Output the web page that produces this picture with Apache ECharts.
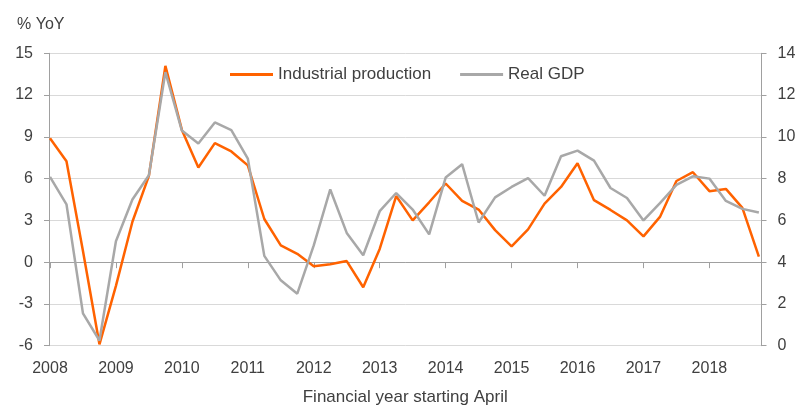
<!DOCTYPE html>
<html>
<head>
<meta charset="utf-8">
<script src="https://cdn.jsdelivr.net/npm/echarts@6/dist/echarts.min.js"></script>
<style>
html,body{margin:0;padding:0;background:#fff;}
#chart{width:800px;height:414px;}
</style>
</head>
<body>
<div id="chart"></div>
<script>
// Quarterly observations, financial year starting April (Q1 = Apr-Jun)
const quarters = [];
for (let y = 2008; y <= 2018; y++) { for (let q = 1; q <= 4; q++) quarters.push(y + 'Q' + q); }

const yearLabels = ['2008','2009','2010','2011','2012','2013','2014','2015','2016','2017','2018'];

const industrialProduction = [
  8.9, 7.25, 0.8, -5.9, -1.7, 2.9, 6.2, 14.1,
  9.5, 6.8, 8.55, 7.95, 6.95, 3.1, 1.2, 0.6,
  -0.3, -0.15, 0.08, -1.8, 0.95, 4.75, 3.0, 4.3,
  5.65, 4.4, 3.78, 2.3, 1.14, 2.35, 4.2, 5.4,
  7.1, 4.45, 3.75, 3.0, 1.85, 3.25, 5.83, 6.46,
  5.1, 5.26, 3.9, 0.4
];

const realGDP = [
  8.08, 6.77, 1.55, 0.25, 5.0, 7.0, 8.16, 13.1,
  10.3, 9.68, 10.69, 10.32, 8.96, 4.3, 3.13, 2.49,
  4.8, 7.48, 5.4, 4.33, 6.44, 7.31, 6.52, 5.33,
  8.05, 8.69, 5.9, 7.1, 7.6, 8.02, 7.18, 9.07,
  9.34, 8.86, 7.55, 7.07, 6.0, 6.83, 7.7, 8.11,
  8.0, 6.93, 6.55, 6.38
];

const yearTickValues = yearLabels.map((_, k) => k * 4);

const textColor = '#404040';
const axisColor = '#A0A0A0';
const gridColor = '#D9D9D9';
const font = '"Liberation Sans", Arial, sans-serif';

const chart = echarts.init(document.getElementById('chart'), null, {renderer: 'canvas'});

chart.setOption({
  animation: false,
  backgroundColor: '#ffffff',
  textStyle: {fontFamily: font, color: textColor},
  grid: {left: 49, right: 38.5, top: 53.3, bottom: 68.3, containLabel: false},
  graphic: [{
    type: 'text', left: 17, top: 17,
    style: {text: '% YoY', fontSize: 16, fontFamily: font, fill: textColor}
  }],
  legend: {
    left: 225, top: 61,
    icon: 'rect', itemWidth: 43, itemHeight: 3, itemGap: 29,
    textStyle: {fontSize: 17, color: textColor, fontFamily: font},
    data: ['Industrial production', 'Real GDP']
  },
  xAxis: [{
    type: 'value', position: 'bottom', min: -0.06, max: 43.16,
    axisLine: {show: false, onZero: false},
    axisTick: {show: false},
    splitLine: {show: false},
    axisLabel: {
      customValues: yearTickValues,
      margin: 15, fontSize: 16, color: textColor, fontFamily: font,
      formatter: v => yearLabels[Math.round(v / 4)] || ''
    },
    name: 'Financial year starting April',
    nameLocation: 'middle', nameGap: 43,
    nameTextStyle: {fontSize: 17, color: textColor, fontFamily: font}
  }, {
    type: 'value', position: 'bottom', min: -0.06, max: 43.16,
    axisLine: {show: true, onZero: true, onZeroAxisIndex: 0, lineStyle: {color: axisColor, width: 1}},
    axisTick: {show: true, customValues: yearTickValues, length: 6, lineStyle: {color: axisColor}},
    axisLabel: {show: false},
    splitLine: {show: false}
  }],
  yAxis: [{
    type: 'value', min: -6, max: 15, interval: 3, position: 'left',
    axisLine: {show: true, onZero: false, lineStyle: {color: axisColor}},
    axisTick: {show: true, length: 5, lineStyle: {color: axisColor}},
    axisLabel: {margin: 16, fontSize: 16, color: textColor, fontFamily: font},
    splitLine: {show: true, lineStyle: {color: gridColor, width: 1}}
  }, {
    type: 'value', min: 0, max: 14, interval: 2, position: 'right',
    axisLine: {show: true, onZero: false, lineStyle: {color: axisColor}},
    axisTick: {show: true, length: 5, lineStyle: {color: axisColor}},
    axisLabel: {margin: 16, fontSize: 16, color: textColor, fontFamily: font},
    splitLine: {show: false}
  }],
  series: [{
    name: 'Industrial production', type: 'line',
    xAxisIndex: 0, yAxisIndex: 0,
    data: industrialProduction.map((v, i) => [i, v]),
    symbol: 'none', color: '#FF6200',
    lineStyle: {color: '#FF6200', width: 2.5}
  }, {
    name: 'Real GDP', type: 'line',
    xAxisIndex: 0, yAxisIndex: 1,
    data: realGDP.map((v, i) => [i, v]),
    symbol: 'none', color: '#A8A8A8',
    lineStyle: {color: '#A8A8A8', width: 2.5}
  }]
});
</script>
</body>
</html>
